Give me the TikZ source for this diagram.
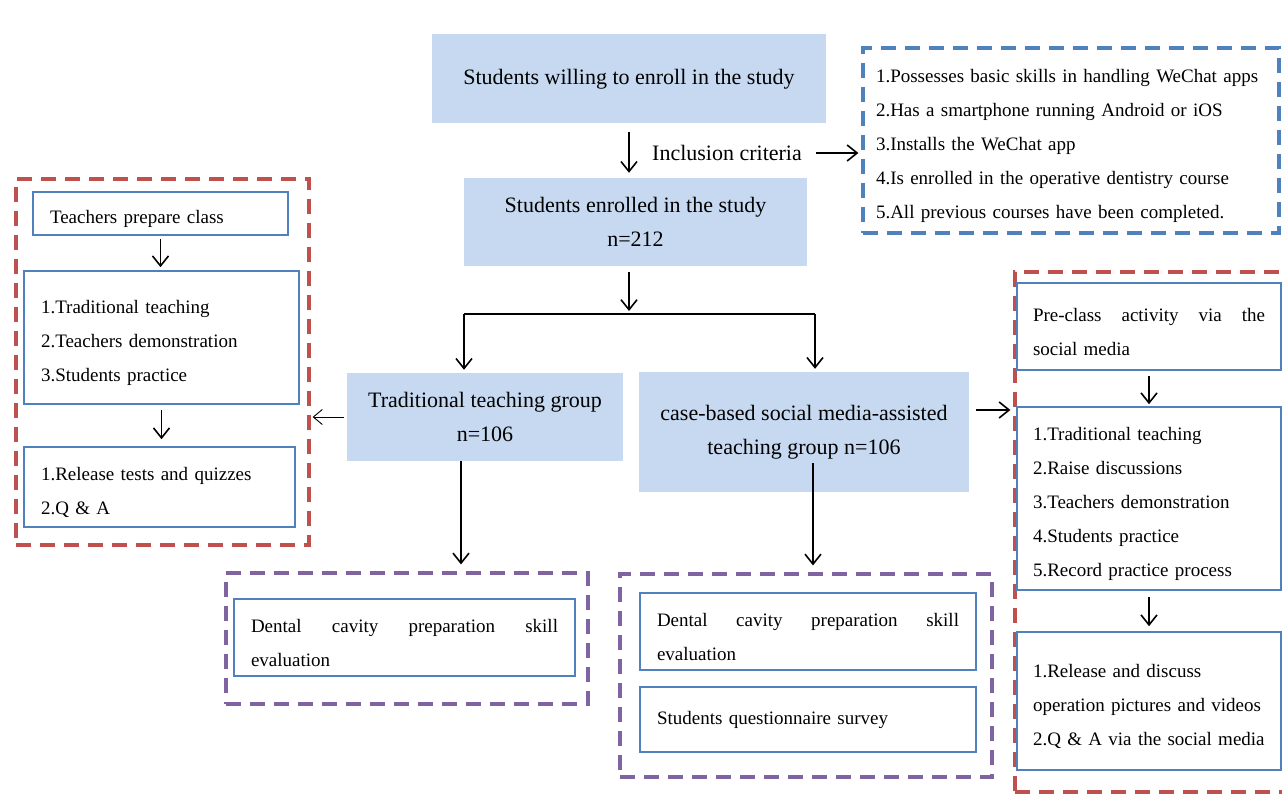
\documentclass[tikz,border=0pt]{standalone}
\usepackage{fontspec}
\setmainfont{Liberation Serif}
\usetikzlibrary{arrows.meta}

\definecolor{groupfill}{RGB}{198,217,240}
\definecolor{stageline}{RGB}{79,129,189}
\definecolor{redframe}{RGB}{192,80,77}
\definecolor{purpleframe}{RGB}{128,100,162}

% extra room above the first line of a box
\newcommand{\topgap}{\rule{0pt}{24pt}}

\tikzset{
  group/.style={fill=groupfill, inner sep=0pt, align=center, font=\fontsize{22}{34}\selectfont},
  stage/.style={draw=stageline, line width=1.6pt, inner xsep=17pt, inner ysep=0pt, align=left,
    font=\fontsize{19}{34}\selectfont},
  frame/.style={dash pattern=on 15pt off 9pt, line width=3.2pt, inner sep=0pt},
  arr/.style={-{Straight Barb[length=10pt,width=16pt]}, line width=1.6pt},
  thinarr/.style={-{Straight Barb[length=9pt,width=15pt]}, line width=0.9pt},
}

\begin{document}
\begin{tikzpicture}[x=1pt,y=-1pt]
\useasboundingbox (0,0) rectangle (1282,794);
\clip (0,0) rectangle (1282,794);

% main groups
\node[group, minimum width=394, minimum height=89] (willing) at (629,79) {Students willing to enroll in the study};
\node[group, minimum width=343, minimum height=88] (enrolled) at (635.5,222) {Students enrolled in the study\\n=212};
\node[group, minimum width=276, minimum height=88] (trad) at (485,417) {Traditional teaching group\\n=106};
\node[group, minimum width=330, minimum height=120] (case) at (804,432) {case-based social media-assisted\\teaching group n=106};

% inclusion criteria
\node[font=\fontsize{22}{34}\selectfont, inner sep=0pt] (incl) at (727,153) {Inclusion criteria};
\node[frame, draw=stageline, minimum width=416, minimum height=185, inner xsep=13pt, text width=390, align=left,
  font=\fontsize{19}{34}\selectfont] (crit) at (1071,140.5)
  {\topgap 1.Possesses basic skills in handling WeChat apps\\
   2.Has a smartphone running Android or iOS\\
   3.Installs the WeChat app\\
   4.Is enrolled in the operative dentistry course\\
   5.All previous courses have been completed.};

% frames
\node[frame, draw=redframe, minimum width=293, minimum height=366] (prepL) at (162.5,362) {};
\node[frame, draw=redframe, minimum width=280, minimum height=520] (prepR) at (1155,532) {};
\node[frame, draw=purpleframe, minimum width=362, minimum height=131] (evalLframe) at (407,638.5) {};
\node[frame, draw=purpleframe, minimum width=372, minimum height=203] (evalRframe) at (806,675.5) {};

% traditional teaching steps
\node[stage, text width=221, minimum height=43] (prepare) at (160.5,213.5) {\topgap Teachers prepare class};
\node[stage, text width=241, minimum height=133] (tradsteps) at (161.5,337.5) {\topgap 1.Traditional teaching\\2.Teachers demonstration\\3.Students practice};
\node[stage, text width=237, minimum height=80] (quizL) at (159.5,487) {\topgap 1.Release tests and quizzes\\2.Q \& A};

% social media steps
\node[stage, inner xsep=16pt, text width=232, minimum height=87] (preR) at (1149,326.5) {\topgap Pre-class\hfill activity\hfill via\hfill the\\social media};
\node[stage, inner xsep=16pt, text width=232, minimum height=183] (stepsR) at (1149,498.5) {\topgap 1.Traditional teaching\\2.Raise discussions\\3.Teachers demonstration\\4.Students practice\\5.Record practice process};
\node[stage, inner xsep=16pt, text width=232, minimum height=138] (quizR) at (1149,701) {\topgap 1.Release and discuss\\operation pictures and videos\\2.Q \& A via the social media};

% evaluation
\node[stage, text width=307, minimum height=77] (evalL) at (404.5,637.5) {\topgap Dental\hfill cavity\hfill preparation\hfill skill\\evaluation};
\node[stage, text width=302, minimum height=77] (evalR) at (808,631.5) {\topgap Dental\hfill cavity\hfill preparation\hfill skill\\evaluation};
\node[stage, text width=302, minimum height=65] (survey) at (808,719.5) {Students questionnaire survey};

% connectors
\coordinate (fork) at (629,314);
\coordinate (forkL) at (464,314);
\coordinate (forkR) at (815,314);
\coordinate (tradOut) at (461,461);
\coordinate (caseOut) at (813,463);
\coordinate (caseSide) at (976,410);

\draw[arr, shorten <=8pt, shorten >=5pt] (willing.south) -- (willing.south |- enrolled.north);
\draw[arr, shorten <=14pt, shorten >=3pt] (incl.east) -- (incl.east -| crit.west);
\draw[arr, shorten <=6pt, shorten >=3pt] (fork |- enrolled.south) -- (fork);
\draw[line width=1.6pt] (forkL) -- (forkR);
\draw[arr, shorten >=3pt] (forkL) -- (forkL |- trad.north);
\draw[arr, shorten >=3pt] (forkR) -- (forkR |- case.north);
\draw[arr, shorten >=7pt] (tradOut) -- (tradOut |- evalLframe.north);
\draw[arr, shorten >=7pt] (caseOut) -- (caseOut |- evalRframe.north);
\draw[thinarr, shorten <=3pt, shorten >=2pt] (trad.west) -- (trad.west -| prepL.east);
\draw[arr, shorten >=3pt] (caseSide) -- (caseSide -| prepR.west);

\draw[arr, shorten <=3pt, shorten >=3pt] (prepare.south) -- (prepare.south |- tradsteps.north);
\draw[arr, shorten <=5pt, shorten >=7pt] (tradsteps.south) -- (tradsteps.south |- quizL.north);
\draw[arr, shorten <=5pt, shorten >=2pt] (preR.south) -- (preR.south |- stepsR.north);
\draw[arr, shorten <=6pt, shorten >=5pt] (stepsR.south) -- (stepsR.south |- quizR.north);
\end{tikzpicture}
\end{document}
